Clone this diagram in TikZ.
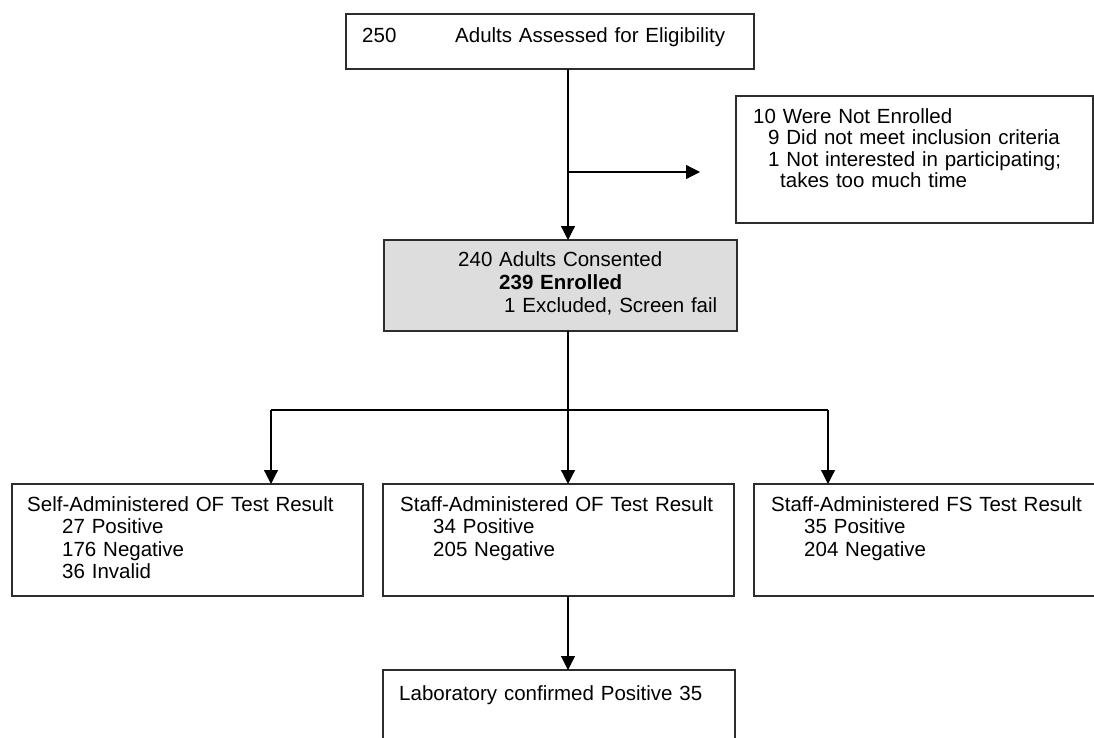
\documentclass[tikz,border=0pt]{standalone}
\usepackage{fontspec}
\setmainfont{Liberation Sans}
\usetikzlibrary{arrows.meta,positioning}
\definecolor{consentgray}{RGB}{221,221,221}
\definecolor{boxline}{RGB}{45,45,45}

\begin{document}
\begin{tikzpicture}[x=1pt,y=-1pt,
    font=\fontsize{20.5}{22.5}\selectfont,
    box/.style={
      draw=boxline,
      line width=1.4pt,
      fill=#1,
      anchor=north west,
      inner sep=0pt,
      outer sep=0pt
    },
    box/.default=white,
    boxtext/.style={anchor=base west, align=left, inner sep=0pt, text width=400pt},
    link/.style={line width=1.2pt, -{Triangle[length=14pt,width=14pt]}},
    plain/.style={line width=1.2pt}
  ]

  \clip (0,0) rectangle (1094,738);

  %% enrolment
  \node[box, minimum width=408pt, minimum height=55pt,
    label={[boxtext, xshift=16pt, yshift=-29pt]north west:%
      \makebox[93pt][l]{250}Adults Assessed for Eligibility}] (elig) at (346,14) {};

  \node[box, minimum width=357pt, minimum height=127pt,
    label={[boxtext, font=\fontsize{20.5}{21.3}\selectfont, xshift=17pt, yshift=-27.5pt]north west:%
      10 Were Not Enrolled\\
      \hspace*{15pt}9 Did not meet inclusion criteria\\
      \hspace*{15pt}1 Not interested in participating;\\
      \hspace*{27pt}takes too much time}] (notenr) at (736,96) {};

  \node[box=consentgray, minimum width=353pt, minimum height=91pt,
    label={[boxtext, font=\fontsize{20.5}{23}\selectfont, xshift=74pt, yshift=-26.7pt]north west:%
      240 Adults Consented\\
      \hspace*{41pt}\textbf{239 Enrolled}\\
      \hspace*{46pt}1 Excluded, Screen fail}] (consent) at (384,240) {};

  %% test results
  \node[box, minimum width=351pt, minimum height=112pt,
    label={[boxtext, xshift=15pt, yshift=-27pt]north west:%
      Self-Administered OF Test Result\\
      \hspace*{35pt}27 Positive\\
      \hspace*{35pt}176 Negative\\
      \hspace*{35pt}36 Invalid}] (selfof) at (12,484) {};

  \node[box, minimum width=351pt, minimum height=112pt,
    label={[boxtext, xshift=17pt, yshift=-27pt]north west:%
      Staff-Administered OF Test Result\\
      \hspace*{33pt}34 Positive\\
      \hspace*{33pt}205 Negative}] (staffof) at (383,484) {};

  \node[box, minimum width=360pt, minimum height=112pt,
    label={[boxtext, xshift=17pt, yshift=-27pt]north west:%
      Staff-Administered FS Test Result\\
      \hspace*{33pt}35 Positive\\
      \hspace*{33pt}204 Negative}] (stafffs) at (754,484) {};

  \node[box, minimum width=352pt, minimum height=90pt,
    label={[boxtext, xshift=16pt, yshift=-30pt]north west:%
      Laboratory confirmed Positive 35}] (lab) at (383,670) {};

  %% connectors
  \coordinate (trunk) at (568,0);
  \coordinate (branch) at (568,172);
  \coordinate (branchend) at (700,172);
  \coordinate (split) at (568,410);
  \coordinate (splitL) at (271,410);
  \coordinate (splitR) at (828,410);

  \draw[link] (elig.south -| trunk) -- (consent.north -| trunk);
  \draw[link] (branch) -- (branchend);

  \draw[plain] (consent.south -| split) -- (split);
  \draw[plain] (splitL) -- (splitR);
  \draw[link] (splitL) -- (selfof.north -| splitL);
  \draw[link] (split) -- (staffof.north -| split);
  \draw[link] (splitR) -- (stafffs.north -| splitR);

  \draw[link] (staffof.south -| split) -- (lab.north -| split);

\end{tikzpicture}
\end{document}
